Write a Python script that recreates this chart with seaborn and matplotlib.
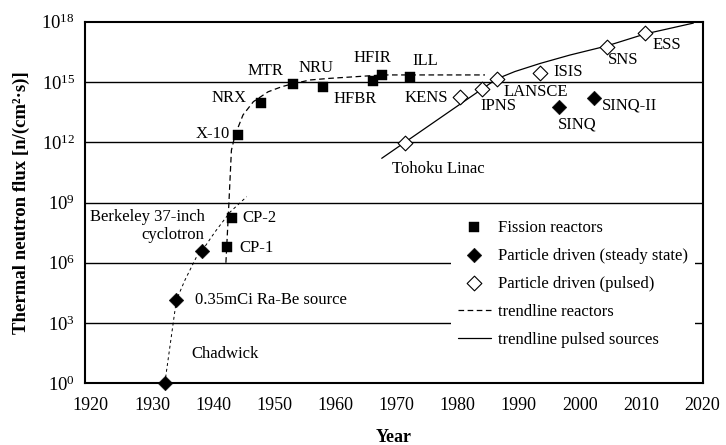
import matplotlib
matplotlib.use("Agg")
import matplotlib.pyplot as plt
import seaborn as sns
import pandas as pd
from matplotlib.ticker import NullLocator

# ---------------- data (year, log10 of thermal neutron flux) ----------------
fission_names = ["CP-1", "CP-2", "X-10", "NRX", "MTR", "NRU", "HFBR", "HFIR", "ILL"]
fission_year = [1942.3, 1943.1, 1944.1, 1947.9, 1953.1, 1958.0, 1966.2, 1967.6, 1972.2]
fission_logflux = [6.80, 8.21, 12.37, 13.94, 14.90, 14.76, 15.06, 15.35, 15.23]

steady_names = ["Chadwick", "0.35mCi Ra-Be source", "Berkeley 37-inch\ncyclotron", "SINQ", "SINQ-II"]
steady_year = [1932.1, 1934.0, 1938.2, 1996.6, 2002.3]
steady_logflux = [0.0, 4.15, 6.60, 13.74, 14.19]

pulsed_names = ["Tohoku Linac", "KENS", "IPNS", "LANSCE", "ISIS", "SNS", "ESS"]
pulsed_year = [1971.4, 1980.4, 1984.0, 1986.4, 1993.5, 2004.4, 2010.7]
pulsed_logflux = [11.98, 14.27, 14.65, 15.15, 15.43, 16.75, 17.42]

trend_reactor_year = [1942.1, 1942.6, 1943.0, 1943.6, 1944.9, 1946.6, 1949.0, 1951.2,
                      1952.9, 1955.9, 1959.1, 1967.8, 1972.6, 1984.5]
trend_reactor_logflux = [6.00, 9.03, 11.60, 12.36, 13.36, 14.02, 14.51, 14.76,
                         14.90, 15.10, 15.18, 15.35, 15.35, 15.35]

trend_early_year = [1932.1, 1934.0, 1935.4, 1937.3, 1938.2, 1940.3, 1942.8, 1945.5]
trend_early_logflux = [0.0, 4.15, 5.14, 6.30, 6.60, 7.53, 8.53, 9.29]

trend_pulsed_year = [1967.6, 1986.4, 1989.4, 1993.5, 1998.4, 2004.4, 2010.7, 2018.6]
trend_pulsed_logflux = [11.20, 15.15, 15.52, 15.92, 16.34, 16.79, 17.39, 17.93]

x_ticks = [1920, 1930, 1940, 1950, 1960, 1970, 1980, 1990, 2000, 2010, 2020]
y_exponents = [0, 3, 6, 9, 12, 15, 18]

legend_labels = ["Fission reactors", "Particle driven (steady state)",
                 "Particle driven (pulsed)", "trendline reactors",
                 "trendline pulsed sources"]

# label placement (offset in points, horizontal alignment)
label_place = {
    "CP-1": (9.1, -1.2, "left"), "CP-2": (7.5, 0, "left"), "X-10": (-6, 0.7, "right"),
    "NRX": (-10.8, 3.6, "right"), "MTR": (-19.8, 9.6, "center"), "NRU": (-4.8, 13.2, "center"),
    "HFBR": (-12.8, -13.2, "center"), "HFIR": (-6.4, 12.0, "center"), "ILL": (11.2, 11.7, "center"),
    "Chadwick": (19.2, 20.9, "left"), "0.35mCi Ra-Be source": (13.2, 0, "left"),
    "Berkeley 37-inch\ncyclotron": (1.9, 17.8, "right"), "SINQ": (-0.5, -12.7, "left"),
    "SINQ-II": (5.5, -5.5, "left"), "Tohoku Linac": (-9.6, -19.2, "left"),
    "KENS": (-8.4, -1.2, "right"), "IPNS": (-1.2, -12.5, "left"), "LANSCE": (4.8, -9.1, "left"),
    "ISIS": (9.6, 1.2, "left"), "SNS": (1.2, -9.6, "left"), "ESS": (5.3, -8.4, "left"),
}

# ---------------- styling ----------------
sns.set_style("white")
plt.rcParams.update({
    "font.family": ["Liberation Serif", "DejaVu Serif"],
    "mathtext.fontset": "custom",
    "mathtext.rm": "Liberation Serif",
    "mathtext.it": "Liberation Serif:italic",
    "mathtext.bf": "Liberation Serif:bold",
    "text.color": "black",
    "axes.labelcolor": "black",
    "xtick.color": "black",
    "ytick.color": "black",
})

fig = plt.figure(figsize=(7.26, 4.45), dpi=100)
ax = fig.add_axes([84.7 / 726, 1 - 383.3 / 445, 618.3 / 726, 361.6 / 445])

def tenpow(vals):
    return [10.0 ** v for v in vals]

df_f = pd.DataFrame({"year": fission_year, "flux": tenpow(fission_logflux)})
df_s = pd.DataFrame({"year": steady_year, "flux": tenpow(steady_logflux)})
df_p = pd.DataFrame({"year": pulsed_year, "flux": tenpow(pulsed_logflux)})
df_tr = pd.DataFrame({"year": trend_reactor_year, "flux": tenpow(trend_reactor_logflux)})
df_te = pd.DataFrame({"year": trend_early_year, "flux": tenpow(trend_early_logflux)})
df_tp = pd.DataFrame({"year": trend_pulsed_year, "flux": tenpow(trend_pulsed_logflux)})

ax.set_yscale("log")

# trend lines
sns.lineplot(data=df_te, x="year", y="flux", ax=ax, sort=False, estimator=None,
             color="black", lw=0.7, linestyle=(0, (3.0, 3.0)), zorder=2)
sns.lineplot(data=df_tr, x="year", y="flux", ax=ax, sort=False, estimator=None,
             color="black", lw=0.9, linestyle=(0, (4.5, 2.8)), zorder=2,
             label=legend_labels[3])
sns.lineplot(data=df_tp, x="year", y="flux", ax=ax, sort=False, estimator=None,
             color="black", lw=0.9, linestyle="-", zorder=2, label=legend_labels[4])

# markers
sns.scatterplot(data=df_f, x="year", y="flux", ax=ax, marker="s", s=46,
                color="black", edgecolor="black", linewidth=0.3, zorder=3,
                label=legend_labels[0], clip_on=False)
sns.scatterplot(data=df_s, x="year", y="flux", ax=ax, marker="D", s=56,
                color="black", edgecolor="black", linewidth=0.3, zorder=3,
                label=legend_labels[1], clip_on=False)
sns.scatterplot(data=df_p, x="year", y="flux", ax=ax, marker="D", s=56,
                facecolor="white", edgecolor="black", linewidth=0.8, zorder=3,
                label=legend_labels[2], clip_on=False)

# annotations
for names, years, logs in [(fission_names, fission_year, fission_logflux),
                           (steady_names, steady_year, steady_logflux),
                           (pulsed_names, pulsed_year, pulsed_logflux)]:
    for n, yr, lf in zip(names, years, logs):
        dx, dy, ha = label_place[n]
        ax.annotate(n, xy=(yr, 10.0 ** lf), xytext=(dx, dy), textcoords="offset points",
                    ha=ha, va="center", fontsize=12, multialignment=ha if ha != "center" else "center",
                    linespacing=1.1, zorder=4)

# axes
ax.set_xlim(1918.99, 2020.18)
ax.set_ylim(1, 1e18)
ax.set_xticks(x_ticks)
ax.set_xticklabels([str(t) for t in x_ticks])
ax.set_yticks(tenpow(y_exponents))
ax.set_yticklabels([r"$\mathregular{10^{%d}}$" % e for e in y_exponents])
ax.yaxis.set_minor_locator(NullLocator())
ax.xaxis.set_minor_locator(NullLocator())
ax.tick_params(axis="y", length=0, pad=7, labelsize=13.5)
ax.tick_params(axis="x", direction="in", length=6, width=1.5, pad=10, labelsize=13)
xt = ax.xaxis.get_major_ticks()
xt[0].tick1line.set_visible(False)
xt[-1].tick1line.set_visible(False)

ax.grid(False)
for e in y_exponents[1:-1]:
    ax.axhline(10.0 ** e, color="black", lw=1.0, zorder=1)

for sp in ax.spines.values():
    sp.set_color("black")
    sp.set_linewidth(1.5)
    sp.set_zorder(5)

ax.set_xlabel("Year", fontsize=13, fontweight="bold", labelpad=11)
ax.set_ylabel("Thermal neutron flux [n/(cm\u00b2\u00b7s)]", fontsize=13.5,
              fontweight="bold", labelpad=8)

handles, labels = ax.get_legend_handles_labels()
hmap = dict(zip(labels, handles))
leg = ax.legend([hmap[l] for l in legend_labels], legend_labels, loc="upper left",
                bbox_to_anchor=((451 - 84.7) / 618.3, (383.3 - 213) / 361.6),
                fontsize=12, frameon=True, fancybox=False, framealpha=1,
                handlelength=2.0, handletextpad=0.45, borderpad=0.4,
                labelspacing=0.72, borderaxespad=0, scatterpoints=1)
leg.get_frame().set_edgecolor("white")
leg.get_frame().set_facecolor("white")
leg.get_frame().set_linewidth(0)

fig.savefig("out.png", dpi=100)
